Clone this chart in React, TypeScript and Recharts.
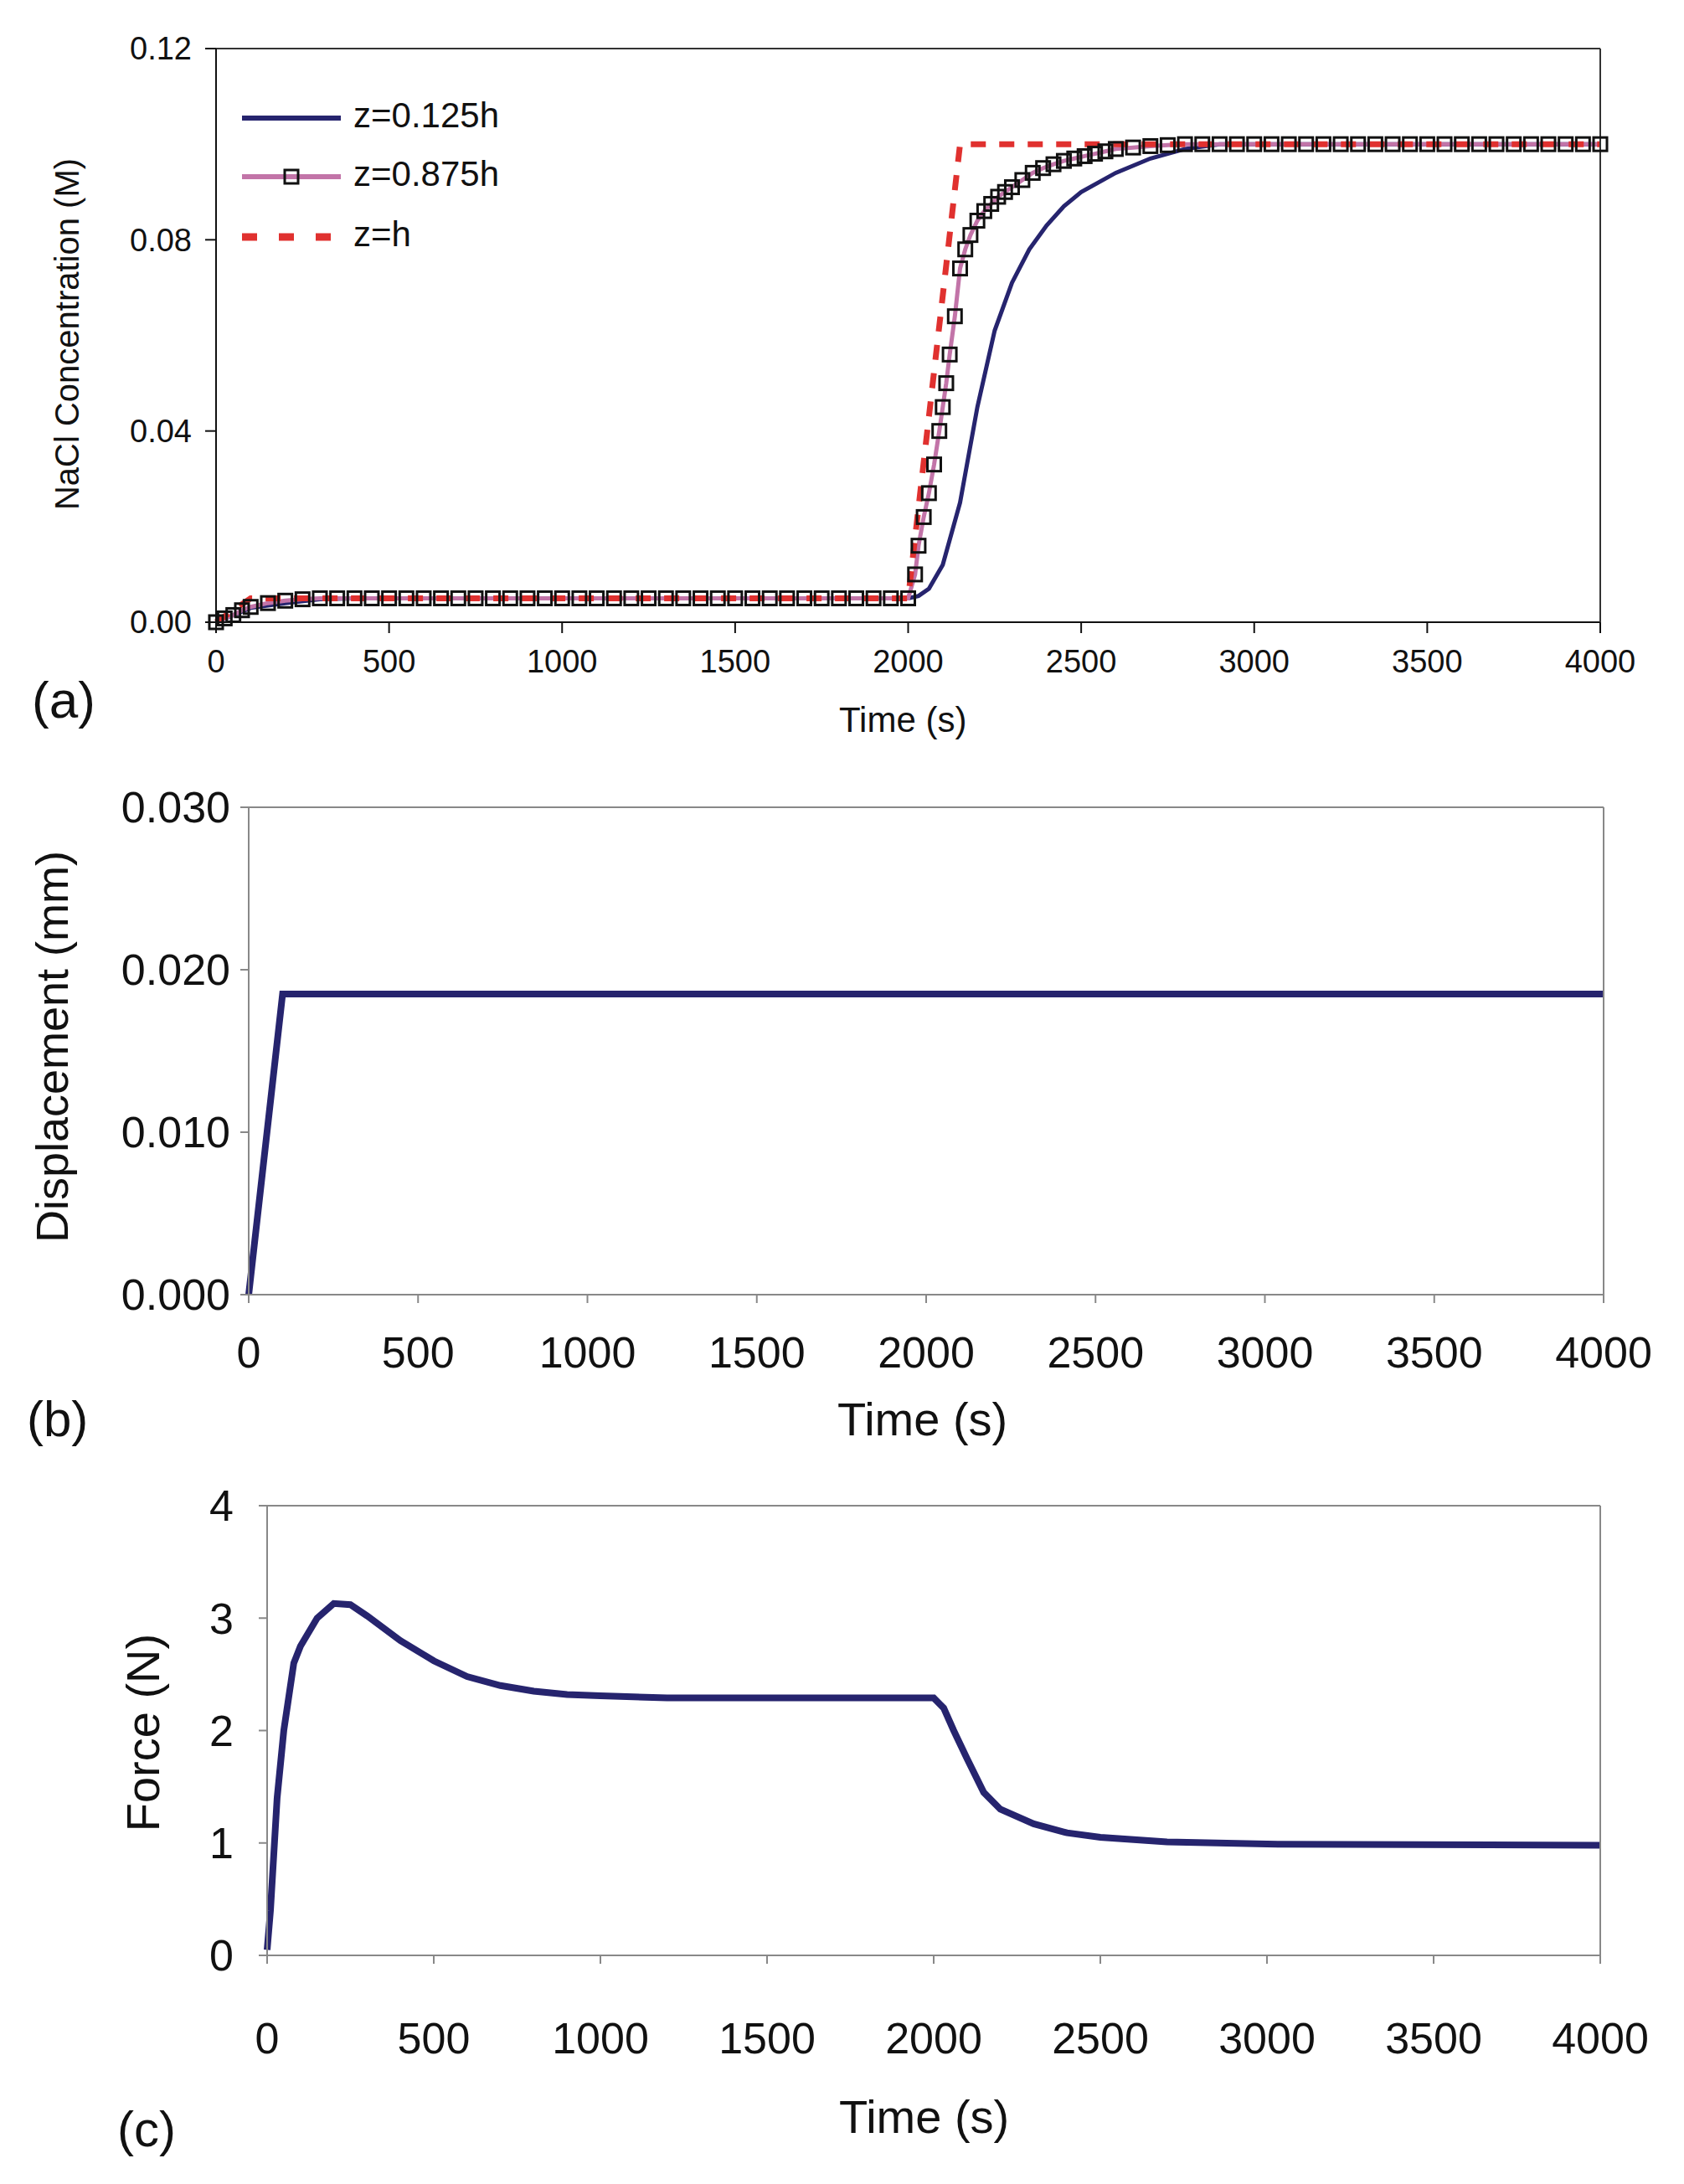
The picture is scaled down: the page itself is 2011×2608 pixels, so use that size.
import React from "react";
import { LineChart, Line, XAxis, YAxis } from "recharts";

const NAVY = "#26246e";
const PINK = "#c274a8";
const RED = "#e0312f";

// (a) NaCl concentration
const t125 = [0, 50, 100, 200, 300, 400, 2000, 2030, 2060, 2100, 2150, 2200, 2250, 2300, 2350, 2400, 2450, 2500, 2600, 2700, 2800, 2900, 4000];
const c125 = [0, 0.0015, 0.003, 0.004, 0.0048, 0.005, 0.005, 0.0055, 0.007, 0.012, 0.025, 0.045, 0.061, 0.071, 0.078, 0.083, 0.087, 0.09, 0.094, 0.097, 0.099, 0.1, 0.1];

const t875 = [0, 25, 50, 75, 100, 150, 200, 250, 300, 350, 400, 450, 500, 550, 600, 650, 700, 750, 800, 850, 900, 950, 1000, 1050, 1100, 1150, 1200, 1250, 1300, 1350, 1400, 1450, 1500, 1550, 1600, 1650, 1700, 1750, 1800, 1850, 1900, 1950, 2000, 2020, 2030, 2045, 2060, 2075, 2090, 2100, 2110, 2120, 2135, 2150, 2165, 2180, 2200, 2220, 2240, 2260, 2280, 2300, 2330, 2360, 2390, 2420, 2450, 2480, 2510, 2540, 2570, 2600, 2650, 2700, 2750, 2800, 2850, 2900, 2950, 3000, 3050, 3100, 3150, 3200, 3250, 3300, 3350, 3400, 3450, 3500, 3550, 3600, 3650, 3700, 3750, 3800, 3850, 3900, 3950, 4000];
const c875 = [0, 0.0008, 0.0015, 0.0025, 0.0032, 0.004, 0.0045, 0.0048, 0.005, 0.005, 0.005, 0.005, 0.005, 0.005, 0.005, 0.005, 0.005, 0.005, 0.005, 0.005, 0.005, 0.005, 0.005, 0.005, 0.005, 0.005, 0.005, 0.005, 0.005, 0.005, 0.005, 0.005, 0.005, 0.005, 0.005, 0.005, 0.005, 0.005, 0.005, 0.005, 0.005, 0.005, 0.005, 0.01, 0.016, 0.022, 0.027, 0.033, 0.04, 0.045, 0.05, 0.056, 0.064, 0.074, 0.078, 0.081, 0.084, 0.086, 0.0875, 0.089, 0.09, 0.091, 0.0925, 0.094, 0.095, 0.0958, 0.0965, 0.097, 0.0975, 0.098, 0.0985, 0.099, 0.0993, 0.0996, 0.0998, 0.1, 0.1, 0.1, 0.1, 0.1, 0.1, 0.1, 0.1, 0.1, 0.1, 0.1, 0.1, 0.1, 0.1, 0.1, 0.1, 0.1, 0.1, 0.1, 0.1, 0.1, 0.1, 0.1, 0.1, 0.1];

const tH = [0, 100, 2000, 2150, 4000];
const cH = [0, 0.005, 0.005, 0.1, 0.1];

// (b) displacement
const tDisp = [0, 100, 4000];
const vDisp = [0, 0.0185, 0.0185];

// (c) force
const tForce = [0, 10, 20, 30, 50, 80, 100, 150, 200, 250, 300, 400, 500, 600, 700, 800, 900, 1000, 1200, 2000, 2030, 2060, 2100, 2150, 2200, 2300, 2400, 2500, 2600, 2700, 3000, 4000];
const vForce = [0.05, 0.4, 0.9, 1.4, 2.0, 2.6, 2.75, 3.0, 3.13, 3.12, 3.02, 2.8, 2.62, 2.48, 2.4, 2.35, 2.32, 2.31, 2.29, 2.29, 2.2, 2.0, 1.75, 1.45, 1.3, 1.17, 1.09, 1.05, 1.03, 1.01, 0.99, 0.98];

const xTicks = [0, 500, 1000, 1500, 2000, 2500, 3000, 3500, 4000];
const yTicksA = [0, 0.04, 0.08, 0.12];
const yTicksB = [0, 0.01, 0.02, 0.03];
const yTicksC = [0, 1, 2, 3, 4];

const zip = (t: number[], v: number[]) => t.map((x, i) => ({ x, y: v[i] }));

const FONT = "Arial, 'Liberation Sans', sans-serif";
const W = 2011;
const H = 2608;

const Square = (props: any) => {
  const { cx, cy } = props;
  if (cx == null || cy == null) return null;
  return <rect x={cx - 8} y={cy - 8} width={16} height={16} fill="none" stroke="#111" strokeWidth={3} />;
};

const abs = (x: number, y: number, size: number, extra: any = {}) => ({
  position: "absolute" as const, left: x, top: y, fontSize: size, fontFamily: FONT, color: "#111", whiteSpace: "nowrap" as const, ...extra,
});

function Panel(props: {
  box: number[]; yDomain: number[]; yTicks: number[]; fmt: (v: number) => string; frame: string; axisColor: string;
  font: number; tickSize: number; tickMargin: number; xTickMargin: number; children: any;
}) {
  const { box, yDomain, yTicks, fmt, frame, axisColor, font, tickSize, tickMargin, xTickMargin } = props;
  const [l, t, r, b] = box;
  const tickStyle = { fontSize: font, fontFamily: FONT, fill: "#111" };
  return (
    <div style={{ position: "absolute", left: 0, top: b - t > 0 ? 0 : 0 }}>
      <LineChart width={W} height={H} margin={{ left: l - 60, top: t - 10, right: W - r - 10, bottom: H - b - 60 }}>
        <XAxis xAxisId="b" dataKey="x" type="number" domain={[0, 4000]} ticks={xTicks} height={60}
          tick={tickStyle} tickSize={tickSize} tickMargin={xTickMargin} stroke={axisColor} strokeWidth={2} interval={0} />
        <XAxis xAxisId="t" orientation="top" dataKey="x" type="number" domain={[0, 4000]} height={10} tick={false} tickLine={false} stroke={frame} strokeWidth={2} />
        <YAxis yAxisId="l" type="number" domain={yDomain} ticks={yTicks} width={60} tickFormatter={fmt} interval={0}
          tick={tickStyle} tickSize={tickSize} tickMargin={tickMargin} stroke={axisColor} strokeWidth={2} />
        <YAxis yAxisId="r" orientation="right" type="number" domain={yDomain} width={10} tick={false} tickLine={false} stroke={frame} strokeWidth={2} />
        {props.children}
      </LineChart>
    </div>
  );
}

export default function App() {
  return (
    <div style={{ position: "absolute", left: 0, top: 0, width: W, height: H, background: "#fff", overflow: "hidden" }}>
      <Panel box={[258, 58, 1911, 743]} yDomain={[0, 0.12]} yTicks={yTicksA}
        fmt={(v) => v.toFixed(2)} frame="#333" axisColor="#111" font={38} tickSize={13} tickMargin={16} xTickMargin={20}>
        <Line xAxisId="b" yAxisId="l" data={zip(t125, c125)} dataKey="y" stroke={NAVY} strokeWidth={5} dot={false} isAnimationActive={false} />
        <Line xAxisId="b" yAxisId="l" data={zip(t875, c875)} dataKey="y" stroke={PINK} strokeWidth={5} dot={<Square />} isAnimationActive={false} />
        <Line xAxisId="b" yAxisId="l" data={zip(tH, cH)} dataKey="y" stroke={RED} strokeWidth={7} strokeDasharray="18 16" dot={false} isAnimationActive={false} />
      </Panel>
      <Panel box={[297, 964, 1915, 1546]} yDomain={[0, 0.03]} yTicks={yTicksB}
        fmt={(v) => v.toFixed(3)} frame="#888" axisColor="#888" font={52} tickSize={10} tickMargin={12} xTickMargin={40}>
        <Line xAxisId="b" yAxisId="l" data={zip(tDisp, vDisp)} dataKey="y" stroke={NAVY} strokeWidth={8} dot={false} isAnimationActive={false} />
      </Panel>
      <Panel box={[319, 1798, 1911, 2335]} yDomain={[0, 4]} yTicks={yTicksC}
        fmt={(v) => String(v)} frame="#888" axisColor="#888" font={52} tickSize={10} tickMargin={30} xTickMargin={70}>
        <Line xAxisId="b" yAxisId="l" data={zip(tForce, vForce)} dataKey="y" stroke={NAVY} strokeWidth={8} dot={false} isAnimationActive={false} />
      </Panel>

      <svg style={{ position: "absolute", left: 0, top: 0 }} width={W} height={400}>
        <line x1={289} y1={141} x2={407} y2={141} stroke={NAVY} strokeWidth={6} />
        <line x1={289} y1={211} x2={407} y2={211} stroke={PINK} strokeWidth={6} />
        <rect x={340} y={203} width={16} height={16} fill="none" stroke="#111" strokeWidth={3} />
        <line x1={289} y1={283} x2={407} y2={283} stroke={RED} strokeWidth={9} strokeDasharray="18 26" />
      </svg>
      <div style={abs(422, 114, 42)}>z=0.125h</div>
      <div style={abs(422, 184, 42)}>z=0.875h</div>
      <div style={abs(422, 256, 42)}>z=h</div>

      <div style={abs(1002, 836, 42)}>Time (s)</div>
      <div style={abs(38, 800, 62)}>(a)</div>
      <div style={abs(80, 399, 40, { transform: "translate(-50%,-50%) rotate(-90deg)" })}>NaCl Concentration (M)</div>

      <div style={abs(1000, 1662, 56)}>Time (s)</div>
      <div style={abs(32, 1660, 60)}>(b)</div>
      <div style={abs(62, 1250, 54, { transform: "translate(-50%,-50%) rotate(-90deg)" })}>Displacement (mm)</div>

      <div style={abs(1002, 2495, 56)}>Time (s)</div>
      <div style={abs(140, 2508, 60)}>(c)</div>
      <div style={abs(170, 2069, 56, { transform: "translate(-50%,-50%) rotate(-90deg)" })}>Force (N)</div>
    </div>
  );
}
